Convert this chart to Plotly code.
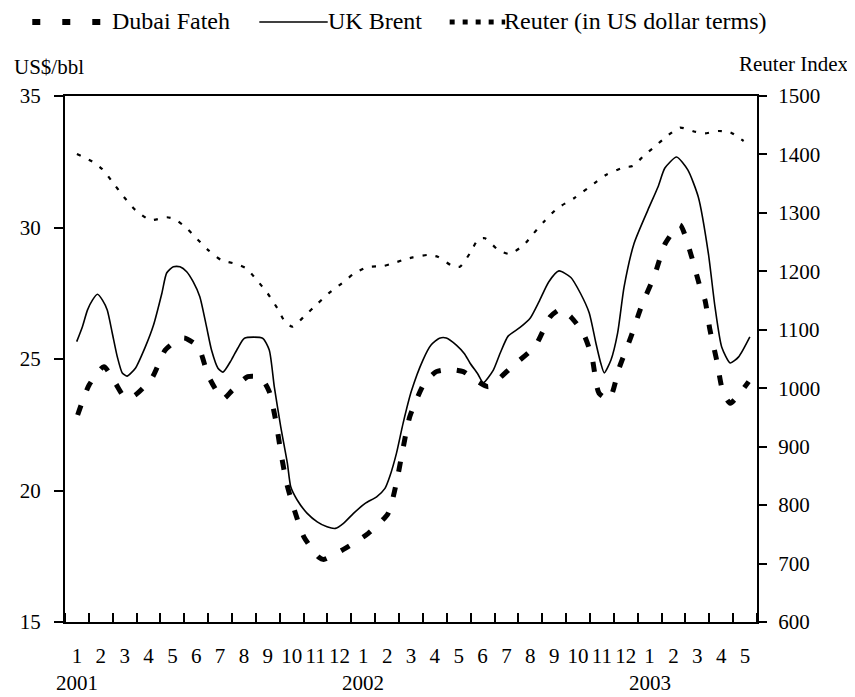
import plotly.graph_objects as go

# ---------------- data (time in months since 1 Jan 2001) ----------------
brent_t = [0.49, 0.73, 0.94, 1.15, 1.36, 1.57, 1.77, 1.98, 2.19, 2.4, 2.6, 2.95, 3.37, 3.71, 4.06,
           4.26, 4.54, 4.82, 5.1, 5.37, 5.65, 5.93, 6.14, 6.41, 6.62, 6.97, 7.24, 7.52, 8.28, 8.56,
           8.77, 9.04, 9.32, 9.46, 9.73, 10.15, 10.57, 10.98, 11.33, 11.67, 12.09, 12.58, 13.06,
           13.41, 13.61, 13.89, 14.17, 14.51, 15.0, 15.34, 15.69, 15.98, 16.4, 16.74, 16.97, 17.3,
           17.53, 17.95, 18.24, 18.57, 19.07, 19.5, 19.86, 20.27, 20.7, 21.2, 21.6, 21.97, 22.25,
           22.45, 22.6, 22.88, 23.16, 23.43, 23.85, 24.43, 24.85, 25.14, 25.63, 26.1, 26.54, 26.96,
           27.24, 27.52, 27.88, 28.23, 28.7]
brent_v = [25.66, 26.23, 26.86, 27.24, 27.46, 27.24, 26.86, 25.99, 25.09, 24.47, 24.35, 24.65, 25.47,
           26.29, 27.5, 28.27, 28.51, 28.51, 28.32, 27.94, 27.37, 26.23, 25.34, 24.65, 24.5, 24.96,
           25.41, 25.79, 25.79, 25.34, 23.95, 22.43, 21.03, 20.14, 19.64, 19.13, 18.81, 18.62, 18.56,
           18.75, 19.13, 19.51, 19.76, 20.08, 20.53, 21.41, 22.56, 23.76, 24.96, 25.53, 25.79, 25.8,
           25.53, 25.2, 24.85, 24.43, 24.1, 24.58, 25.23, 25.87, 26.2, 26.56, 27.17, 27.93, 28.35,
           28.1, 27.5, 26.75, 25.6, 24.85, 24.47, 24.96, 25.99, 27.74, 29.4, 30.67, 31.54, 32.26,
           32.68, 32.19, 31.16, 29.03, 26.98, 25.46, 24.85, 25.08, 25.84]

dubai_t = [0.53, 1.01, 1.63, 2.1, 2.5, 2.9, 3.64, 4.2, 4.68, 5.0, 5.58, 6.02, 6.62, 7.0, 7.66, 8.2,
           8.56, 8.84, 9.04, 9.29, 9.57, 10.01, 10.64, 10.84, 11.67, 12.71, 13.54, 13.89, 14.14,
           14.45, 15.06, 15.56, 16.1, 16.69, 17.2, 17.74, 18.73, 19.71, 20.34, 20.77, 21.2, 21.72,
           22.08, 22.38, 22.81, 23.22, 23.72, 24.15, 24.71, 25.16, 25.77, 26.26, 26.61, 26.82, 27.03,
           27.31, 27.57, 27.88, 28.65]
dubai_v = [22.87, 24.01, 24.71, 24.1, 23.55, 23.6, 24.27, 25.34, 25.7, 25.8, 25.47, 24.33, 23.48,
           23.8, 24.33, 24.3, 23.76, 22.62, 21.48, 20.27, 19.38, 18.24, 17.46, 17.38, 17.76, 18.37,
           19.13, 20.3, 21.48, 22.81, 24.08, 24.52, 24.6, 24.52, 24.2, 23.95, 24.71, 25.5, 26.61,
           26.89, 26.6, 25.98, 25.09, 23.7, 23.47, 24.65, 25.85, 26.99, 28.19, 29.4, 30.1, 28.89,
           27.75, 27.24, 26.1, 24.96, 23.76, 23.32, 24.14]

reuter_t = [0.5, 1.15, 1.57, 1.98, 2.46, 2.95, 3.57, 4.27, 4.61, 5.1, 5.55, 6.0, 6.55, 7.17, 7.59,
            8.0, 8.49, 8.9, 9.22, 9.53, 10.08, 10.57, 11.05, 11.6, 12.09, 12.64, 13.34, 13.61, 14.17,
            14.58, 15.2, 15.62, 16.2, 16.55, 16.97, 17.32, 17.6, 18.16, 18.63, 19.22, 19.64, 20.07,
            20.63, 21.33, 22.18, 22.67, 23.44, 23.79, 24.29, 24.71, 25.2, 25.77, 26.4, 26.82, 27.38,
            27.88, 28.44]
reuter_v = [1400.8, 1387.6, 1374.6, 1353.4, 1327.7, 1305, 1287.8, 1292.5, 1289, 1273.6, 1254.8,
            1236.4, 1219.3, 1212.6, 1205.2, 1186.9, 1162.4, 1136.7, 1113.8, 1105.3, 1125.3, 1144.1,
            1162.4, 1179.5, 1195.4, 1206.9, 1209.1, 1212, 1219.4, 1224, 1228, 1225, 1210, 1208,
            1230.9, 1254.8, 1256.5, 1236.5, 1229.7, 1245, 1265, 1285, 1307.8, 1325, 1350.6, 1364.8,
            1378, 1380.2, 1399.1, 1413.3, 1430.4, 1445.8, 1438.9, 1436.2, 1440.1, 1437.9, 1423]

month_labels = ["1", "2", "3", "4", "5", "6", "7", "8", "9", "10", "11", "12",
                "1", "2", "3", "4", "5", "6", "7", "8", "9", "10", "11", "12",
                "1", "2", "3", "4", "5"]
year_labels = ["2001", "2002", "2003"]
left_ticks = [15, 20, 25, 30, 35]
right_ticks = [600, 700, 800, 900, 1000, 1100, 1200, 1300, 1400, 1500]

series_names = ["Dubai Fateh", "UK Brent", "Reuter (in US dollar terms)"]

# ---------------- layout geometry (screen pixels; page body has an 8px margin) ----------------
OFF = 8
W, H = 855 - OFF, 697 - OFF
L, R, T, B = 59 - OFF, 757 - OFF, 96 - OFF, 622.5 - OFF
FONT = "Liberation Serif"


def px(x_screen):
    return (x_screen - OFF - L) / (R - L)


def py(y_screen):
    return (B - (y_screen - OFF)) / (B - T)


n_months = len(month_labels)

fig = go.Figure()

fig.add_trace(go.Scatter(x=dubai_t, y=dubai_v, mode="lines", name=series_names[0],
                         line=dict(color="black", width=5, dash="10px,16px", shape="spline", smoothing=0.6),
                         showlegend=False))
fig.add_trace(go.Scatter(x=brent_t, y=brent_v, mode="lines", name=series_names[1],
                         line=dict(color="black", width=1.6, shape="spline", smoothing=0.6),
                         showlegend=False))
fig.add_trace(go.Scatter(x=reuter_t, y=reuter_v, mode="lines", name=series_names[2], yaxis="y2",
                         line=dict(color="black", width=2.2, dash="4px,9px", shape="spline", smoothing=0.6),
                         showlegend=False))

axis_font = dict(family=FONT, size=21, color="black")

fig.update_layout(
    width=W, height=H,
    margin=dict(l=L, r=W - R, t=T, b=H - B, pad=0),
    paper_bgcolor="white", plot_bgcolor="white",
    font=axis_font,
    showlegend=False,
    xaxis=dict(range=[0, n_months], showgrid=False, zeroline=False,
               showline=True, linecolor="black", linewidth=2, mirror=True,
               tickmode="array", tickvals=[i + 0.5 for i in range(n_months)], ticktext=month_labels,
               ticks="", ticklabelstandoff=14, tickfont=axis_font,
               minor=dict(tickmode="linear", tick0=0, dtick=1, ticks="inside", ticklen=9,
                          tickwidth=1.5, tickcolor="black", showgrid=False)),
    yaxis=dict(range=[15, 35], showgrid=False, zeroline=False,
               showline=True, linecolor="black", linewidth=2,
               tickmode="array", tickvals=left_ticks,
               ticks="outside", ticklen=9, tickwidth=2, tickcolor="black",
               ticklabelstandoff=9, tickfont=axis_font),
    yaxis2=dict(range=[600, 1500], overlaying="y", side="right", showgrid=False, zeroline=False,
                showline=True, linecolor="black", linewidth=2,
                tickmode="array", tickvals=right_ticks,
                ticks="outside", ticklen=8, tickwidth=2, tickcolor="black",
                ticklabelstandoff=7, tickfont=axis_font),
    yaxis3=dict(range=[15, 35], overlaying="y", side="left", showgrid=False, zeroline=False,
                showline=False, tickmode="array", tickvals=left_ticks, showticklabels=False,
                ticks="inside", ticklen=6, tickwidth=2, tickcolor="black"),
    yaxis4=dict(range=[600, 1500], overlaying="y", side="right", showgrid=False, zeroline=False,
                showline=False, tickmode="array", tickvals=right_ticks, showticklabels=False,
                ticks="inside", ticklen=6, tickwidth=2, tickcolor="black"),
)

annotations = []
# year labels under January of each year
for i, yl in enumerate(year_labels):
    annotations.append(dict(x=12 * i + 0.5, xref="x", y=py(684), yref="paper",
                            text=yl, showarrow=False, xanchor="center", yanchor="middle",
                            font=axis_font))
# axis titles
annotations.append(dict(x=px(6), xref="paper", y=py(67), yref="paper", text="US$/bbl",
                        showarrow=False, xanchor="left", yanchor="middle", font=axis_font))
annotations.append(dict(x=px(852), xref="paper", y=py(64), yref="paper", text="Reuter Index",
                        showarrow=False, xanchor="right", yanchor="middle", font=axis_font))

# manual legend
leg_font = dict(family=FONT, size=24, color="black")
leg_y = py(22)
legend_items = [
    (26, 96, dict(color="black", width=6, dash="8px,22px"), 104, series_names[0]),
    (255, 324, dict(color="black", width=1.6), 322, series_names[1]),
    (447, 503, dict(color="black", width=5, dash="5px,8px"), 500, series_names[2]),
]
shapes = []
for x0, x1, ln, tx, name in legend_items:
    shapes.append(dict(type="line", xref="paper", yref="paper", x0=px(x0), x1=px(x1),
                       y0=leg_y, y1=leg_y, line=ln))
    annotations.append(dict(x=px(tx), xref="paper", y=py(21), yref="paper", text=name,
                            showarrow=False, xanchor="left", yanchor="middle", font=leg_font))

fig.update_layout(annotations=annotations, shapes=shapes)

fig.write_html("out.html")
